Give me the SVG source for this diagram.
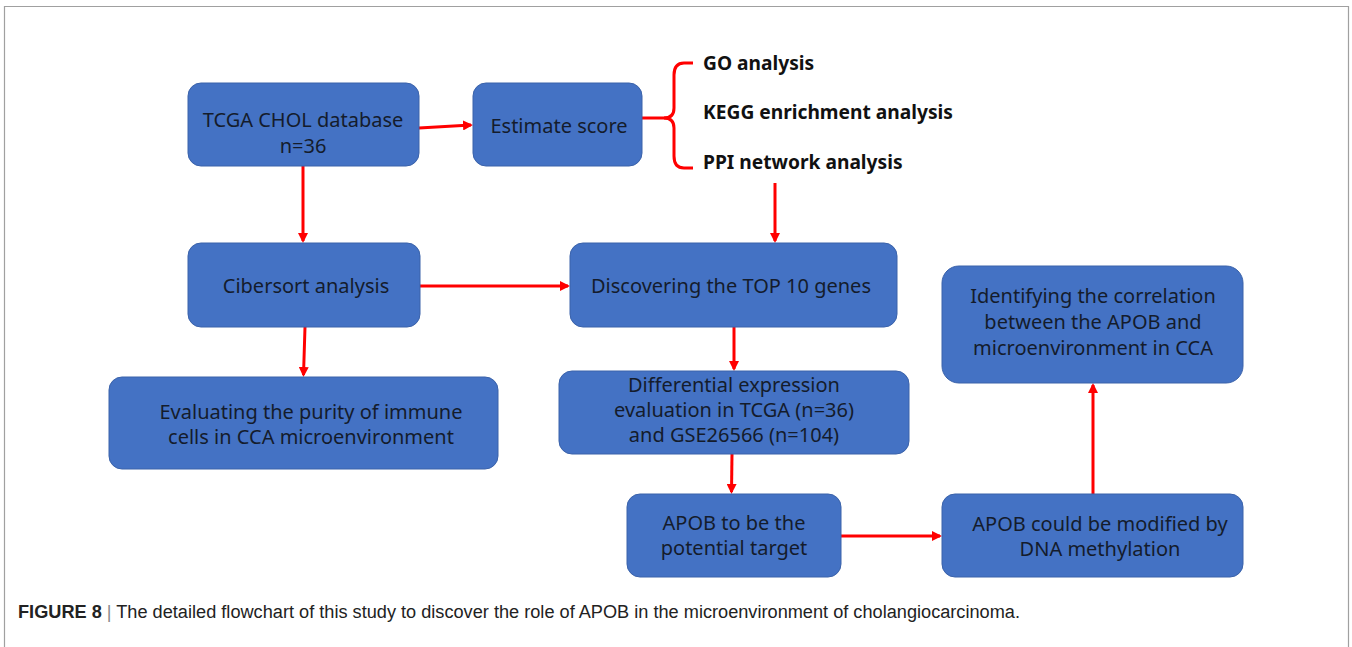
<svg xmlns="http://www.w3.org/2000/svg" width="1352" height="647" viewBox="0 0 1352 647">
<style>
.box{fill:#4472C4;stroke:#3A62AA;stroke-width:1}
.t{font-family:"Noto Sans","Open Sans",sans-serif;font-size:20px;fill:#141c2c;text-anchor:middle}
.b{font-family:"Noto Sans","Open Sans",sans-serif;font-size:19.2px;font-weight:bold;fill:#111}
.c{stroke:#FF0000;stroke-width:3;fill:none}
.cap{font-family:"Liberation Sans",Arial,sans-serif;font-size:18px;fill:#222}
</style>
<defs>
<marker id="ah" markerWidth="10" markerHeight="10" refX="8" refY="5" orient="auto" markerUnits="userSpaceOnUse" viewBox="0 0 10 10">
<path d="M0,0 L10,5 L0,10 z" fill="#FF0000"/>
</marker>
</defs>
<rect width="1352" height="647" fill="#fff"/>
<path d="M4.5,660 V6.5 H1348.5 V660" fill="none" stroke="#a0a0a0" stroke-width="1.2"/>
<g id="connectors">
<line class="c" x1="419" y1="128" x2="471" y2="125" marker-end="url(#ah)"/>
<line class="c" x1="642" y1="118" x2="668" y2="118"/>
<path class="c" d="M693,63 H684 Q674,63 674,75 V108 Q674,118 664,118 Q674,118 674,128 V156 Q674,168 684,168 H693"/>
<line class="c" x1="775" y1="183" x2="775" y2="241" marker-end="url(#ah)"/>
<line class="c" x1="303" y1="166" x2="303" y2="241" marker-end="url(#ah)"/>
<line class="c" x1="420" y1="286" x2="568" y2="286" marker-end="url(#ah)"/>
<line class="c" x1="305" y1="327" x2="303.5" y2="375" marker-end="url(#ah)"/>
<line class="c" x1="734" y1="327" x2="734" y2="369" marker-end="url(#ah)"/>
<line class="c" x1="732" y1="454" x2="731.5" y2="492" marker-end="url(#ah)"/>
<line class="c" x1="841" y1="536" x2="940" y2="536" marker-end="url(#ah)"/>
<line class="c" x1="1093" y1="494" x2="1093" y2="385" marker-end="url(#ah)"/>
</g>
<g id="n-tcga"><rect class="box" x="188" y="83" width="231" height="83" rx="13"/>
<text class="t" x="303" y="127">TCGA CHOL database</text><text class="t" x="303" y="153">n=36</text></g>
<g id="n-estimate"><rect class="box" x="473" y="83" width="169" height="83" rx="13"/>
<text class="t" x="559" y="133">Estimate score</text></g>
<g id="n-list">
<text class="b" x="703" y="70">GO analysis</text>
<text class="b" x="703" y="119">KEGG enrichment analysis</text>
<text class="b" x="703" y="169">PPI network analysis</text>
</g>
<g id="n-cibersort"><rect class="box" x="188" y="243" width="232" height="84" rx="13"/>
<text class="t" x="306" y="293">Cibersort analysis</text></g>
<g id="n-discover"><rect class="box" x="570" y="243" width="327" height="84" rx="13"/>
<text class="t" x="731" y="293">Discovering the TOP 10 genes</text></g>
<g id="n-evaluating"><rect class="box" x="109" y="377" width="389" height="92" rx="13"/>
<text class="t" x="311" y="419">Evaluating the purity of immune</text><text class="t" x="311" y="444">cells in CCA microenvironment</text></g>
<g id="n-differential"><rect class="box" x="559" y="371" width="350" height="83" rx="13"/>
<text class="t" x="734" y="392">Differential expression</text><text class="t" x="734" y="417">evaluation in TCGA (n=36)</text><text class="t" x="734" y="442">and GSE26566 (n=104)</text></g>
<g id="n-target"><rect class="box" x="627" y="494" width="214" height="83" rx="13"/>
<text class="t" x="734" y="530">APOB to be the</text><text class="t" x="734" y="555">potential target</text></g>
<g id="n-methyl"><rect class="box" x="942" y="494" width="301" height="83" rx="13"/>
<text class="t" x="1100" y="531">APOB could be modified by</text><text class="t" x="1100" y="556">DNA methylation</text></g>
<g id="n-identify"><rect class="box" x="942" y="266" width="301" height="117" rx="17"/>
<text class="t" x="1093" y="303">Identifying the correlation</text><text class="t" x="1093" y="329">between the APOB and</text><text class="t" x="1093" y="355">microenvironment in CCA</text></g>
<text class="cap" x="18" y="618" textLength="1002" lengthAdjust="spacingAndGlyphs"><tspan font-weight="bold">FIGURE 8</tspan><tspan fill="#888"> | </tspan>The detailed flowchart of this study to discover the role of APOB in the microenvironment of cholangiocarcinoma.</text>
</svg>
